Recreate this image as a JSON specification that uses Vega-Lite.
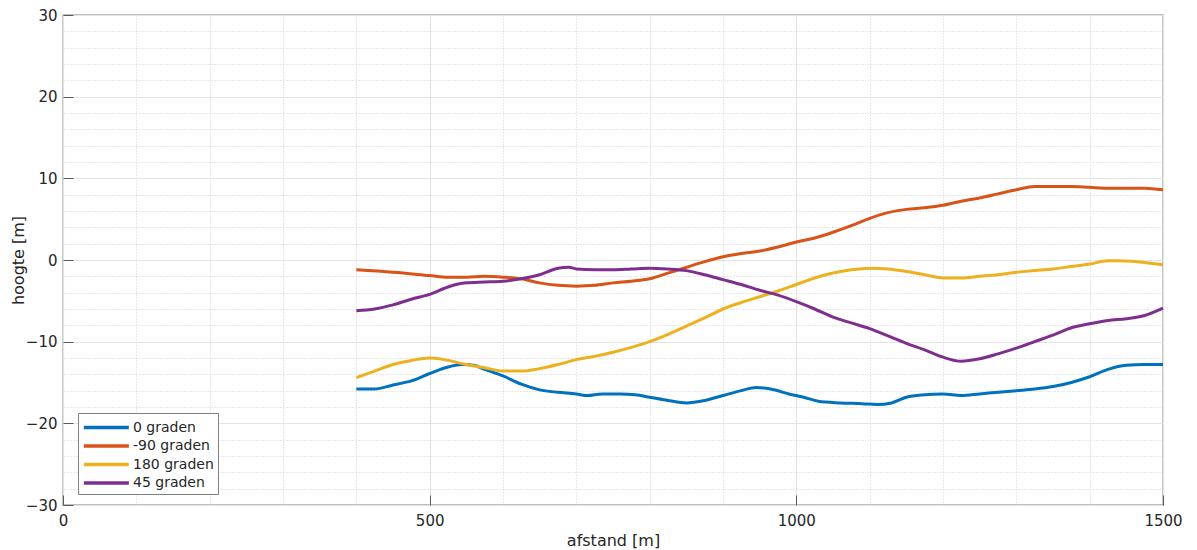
{
  "$schema": "https://vega.github.io/schema/vega-lite/v6.json",
  "width": 1100,
  "height": 490,
  "autosize": {"type": "none"},
  "padding": {"left": 63, "top": 15, "right": 34, "bottom": 45},
  "background": "white",
  "config": {
    "view": {"stroke": "#7f7f7f", "strokeWidth": 1.3},
    "font": "DejaVu Sans",
    "axis": {"labelFont": "DejaVu Sans", "titleFont": "DejaVu Sans", "labelColor": "#262626", "titleColor": "#262626", "titleFontWeight": "normal"}
  },
  "datasets": {
    "d": [
      {"x":400,"y":-15.8,"s":"0 graden"},{"x":425,"y":-15.8,"s":"0 graden"},{"x":450,"y":-15.3,"s":"0 graden"},{"x":475,"y":-14.8,"s":"0 graden"},{"x":500,"y":-13.9,"s":"0 graden"},{"x":525,"y":-13.1,"s":"0 graden"},{"x":545,"y":-12.8,"s":"0 graden"},{"x":560,"y":-12.9,"s":"0 graden"},{"x":575,"y":-13.4,"s":"0 graden"},{"x":600,"y":-14.2,"s":"0 graden"},{"x":625,"y":-15.2,"s":"0 graden"},{"x":650,"y":-15.9,"s":"0 graden"},{"x":675,"y":-16.2,"s":"0 graden"},{"x":700,"y":-16.4,"s":"0 graden"},{"x":715,"y":-16.6,"s":"0 graden"},{"x":735,"y":-16.4,"s":"0 graden"},{"x":760,"y":-16.4,"s":"0 graden"},{"x":780,"y":-16.5,"s":"0 graden"},{"x":800,"y":-16.8,"s":"0 graden"},{"x":825,"y":-17.2,"s":"0 graden"},{"x":850,"y":-17.5,"s":"0 graden"},{"x":875,"y":-17.2,"s":"0 graden"},{"x":900,"y":-16.6,"s":"0 graden"},{"x":925,"y":-16.0,"s":"0 graden"},{"x":945,"y":-15.6,"s":"0 graden"},{"x":965,"y":-15.8,"s":"0 graden"},{"x":990,"y":-16.4,"s":"0 graden"},{"x":1010,"y":-16.8,"s":"0 graden"},{"x":1030,"y":-17.3,"s":"0 graden"},{"x":1060,"y":-17.5,"s":"0 graden"},{"x":1090,"y":-17.6,"s":"0 graden"},{"x":1110,"y":-17.7,"s":"0 graden"},{"x":1130,"y":-17.5,"s":"0 graden"},{"x":1150,"y":-16.8,"s":"0 graden"},{"x":1175,"y":-16.5,"s":"0 graden"},{"x":1200,"y":-16.4,"s":"0 graden"},{"x":1225,"y":-16.6,"s":"0 graden"},{"x":1250,"y":-16.4,"s":"0 graden"},{"x":1275,"y":-16.2,"s":"0 graden"},{"x":1300,"y":-16.0,"s":"0 graden"},{"x":1325,"y":-15.8,"s":"0 graden"},{"x":1350,"y":-15.5,"s":"0 graden"},{"x":1375,"y":-15.0,"s":"0 graden"},{"x":1400,"y":-14.3,"s":"0 graden"},{"x":1425,"y":-13.4,"s":"0 graden"},{"x":1450,"y":-12.9,"s":"0 graden"},{"x":1475,"y":-12.8,"s":"0 graden"},{"x":1500,"y":-12.8,"s":"0 graden"},

      {"x":400,"y":-1.2,"s":"-90 graden"},{"x":450,"y":-1.5,"s":"-90 graden"},{"x":500,"y":-1.9,"s":"-90 graden"},{"x":525,"y":-2.1,"s":"-90 graden"},{"x":550,"y":-2.1,"s":"-90 graden"},{"x":575,"y":-2.0,"s":"-90 graden"},{"x":600,"y":-2.1,"s":"-90 graden"},{"x":625,"y":-2.3,"s":"-90 graden"},{"x":650,"y":-2.8,"s":"-90 graden"},{"x":675,"y":-3.1,"s":"-90 graden"},{"x":700,"y":-3.2,"s":"-90 graden"},{"x":725,"y":-3.1,"s":"-90 graden"},{"x":750,"y":-2.8,"s":"-90 graden"},{"x":775,"y":-2.6,"s":"-90 graden"},{"x":800,"y":-2.3,"s":"-90 graden"},{"x":825,"y":-1.6,"s":"-90 graden"},{"x":850,"y":-0.9,"s":"-90 graden"},{"x":875,"y":-0.2,"s":"-90 graden"},{"x":900,"y":0.4,"s":"-90 graden"},{"x":925,"y":0.8,"s":"-90 graden"},{"x":950,"y":1.1,"s":"-90 graden"},{"x":975,"y":1.6,"s":"-90 graden"},{"x":1000,"y":2.2,"s":"-90 graden"},{"x":1025,"y":2.7,"s":"-90 graden"},{"x":1050,"y":3.4,"s":"-90 graden"},{"x":1075,"y":4.2,"s":"-90 graden"},{"x":1100,"y":5.1,"s":"-90 graden"},{"x":1125,"y":5.8,"s":"-90 graden"},{"x":1150,"y":6.2,"s":"-90 graden"},{"x":1175,"y":6.4,"s":"-90 graden"},{"x":1200,"y":6.7,"s":"-90 graden"},{"x":1225,"y":7.2,"s":"-90 graden"},{"x":1250,"y":7.6,"s":"-90 graden"},{"x":1275,"y":8.1,"s":"-90 graden"},{"x":1300,"y":8.6,"s":"-90 graden"},{"x":1325,"y":9.0,"s":"-90 graden"},{"x":1350,"y":9.0,"s":"-90 graden"},{"x":1375,"y":9.0,"s":"-90 graden"},{"x":1400,"y":8.9,"s":"-90 graden"},{"x":1425,"y":8.8,"s":"-90 graden"},{"x":1450,"y":8.8,"s":"-90 graden"},{"x":1475,"y":8.8,"s":"-90 graden"},{"x":1500,"y":8.6,"s":"-90 graden"},

      {"x":400,"y":-14.4,"s":"180 graden"},{"x":425,"y":-13.6,"s":"180 graden"},{"x":450,"y":-12.8,"s":"180 graden"},{"x":475,"y":-12.3,"s":"180 graden"},{"x":500,"y":-12.0,"s":"180 graden"},{"x":520,"y":-12.2,"s":"180 graden"},{"x":550,"y":-12.8,"s":"180 graden"},{"x":575,"y":-13.2,"s":"180 graden"},{"x":600,"y":-13.6,"s":"180 graden"},{"x":625,"y":-13.6,"s":"180 graden"},{"x":650,"y":-13.3,"s":"180 graden"},{"x":675,"y":-12.8,"s":"180 graden"},{"x":700,"y":-12.2,"s":"180 graden"},{"x":725,"y":-11.8,"s":"180 graden"},{"x":750,"y":-11.3,"s":"180 graden"},{"x":775,"y":-10.7,"s":"180 graden"},{"x":800,"y":-10.0,"s":"180 graden"},{"x":825,"y":-9.1,"s":"180 graden"},{"x":850,"y":-8.1,"s":"180 graden"},{"x":875,"y":-7.1,"s":"180 graden"},{"x":900,"y":-6.0,"s":"180 graden"},{"x":925,"y":-5.2,"s":"180 graden"},{"x":950,"y":-4.5,"s":"180 graden"},{"x":975,"y":-3.8,"s":"180 graden"},{"x":1000,"y":-3.0,"s":"180 graden"},{"x":1025,"y":-2.2,"s":"180 graden"},{"x":1050,"y":-1.6,"s":"180 graden"},{"x":1075,"y":-1.2,"s":"180 graden"},{"x":1100,"y":-1.0,"s":"180 graden"},{"x":1125,"y":-1.1,"s":"180 graden"},{"x":1150,"y":-1.4,"s":"180 graden"},{"x":1175,"y":-1.8,"s":"180 graden"},{"x":1200,"y":-2.2,"s":"180 graden"},{"x":1225,"y":-2.2,"s":"180 graden"},{"x":1250,"y":-2.0,"s":"180 graden"},{"x":1275,"y":-1.8,"s":"180 graden"},{"x":1300,"y":-1.5,"s":"180 graden"},{"x":1325,"y":-1.3,"s":"180 graden"},{"x":1350,"y":-1.1,"s":"180 graden"},{"x":1375,"y":-0.8,"s":"180 graden"},{"x":1400,"y":-0.5,"s":"180 graden"},{"x":1425,"y":-0.1,"s":"180 graden"},{"x":1440,"y":-0.1,"s":"180 graden"},{"x":1475,"y":-0.3,"s":"180 graden"},{"x":1500,"y":-0.6,"s":"180 graden"},

      {"x":400,"y":-6.2,"s":"45 graden"},{"x":425,"y":-6.0,"s":"45 graden"},{"x":450,"y":-5.5,"s":"45 graden"},{"x":475,"y":-4.8,"s":"45 graden"},{"x":500,"y":-4.2,"s":"45 graden"},{"x":525,"y":-3.3,"s":"45 graden"},{"x":550,"y":-2.8,"s":"45 graden"},{"x":575,"y":-2.7,"s":"45 graden"},{"x":600,"y":-2.6,"s":"45 graden"},{"x":625,"y":-2.3,"s":"45 graden"},{"x":650,"y":-1.8,"s":"45 graden"},{"x":675,"y":-1.0,"s":"45 graden"},{"x":690,"y":-0.9,"s":"45 graden"},{"x":700,"y":-1.1,"s":"45 graden"},{"x":725,"y":-1.2,"s":"45 graden"},{"x":750,"y":-1.2,"s":"45 graden"},{"x":775,"y":-1.1,"s":"45 graden"},{"x":800,"y":-1.0,"s":"45 graden"},{"x":825,"y":-1.1,"s":"45 graden"},{"x":850,"y":-1.3,"s":"45 graden"},{"x":875,"y":-1.8,"s":"45 graden"},{"x":900,"y":-2.4,"s":"45 graden"},{"x":925,"y":-3.0,"s":"45 graden"},{"x":950,"y":-3.7,"s":"45 graden"},{"x":975,"y":-4.3,"s":"45 graden"},{"x":1000,"y":-5.1,"s":"45 graden"},{"x":1025,"y":-6.0,"s":"45 graden"},{"x":1050,"y":-7.0,"s":"45 graden"},{"x":1075,"y":-7.7,"s":"45 graden"},{"x":1100,"y":-8.4,"s":"45 graden"},{"x":1125,"y":-9.3,"s":"45 graden"},{"x":1150,"y":-10.2,"s":"45 graden"},{"x":1175,"y":-11.0,"s":"45 graden"},{"x":1200,"y":-11.9,"s":"45 graden"},{"x":1225,"y":-12.4,"s":"45 graden"},{"x":1250,"y":-12.1,"s":"45 graden"},{"x":1275,"y":-11.5,"s":"45 graden"},{"x":1300,"y":-10.8,"s":"45 graden"},{"x":1325,"y":-10.0,"s":"45 graden"},{"x":1350,"y":-9.2,"s":"45 graden"},{"x":1375,"y":-8.3,"s":"45 graden"},{"x":1400,"y":-7.8,"s":"45 graden"},{"x":1425,"y":-7.4,"s":"45 graden"},{"x":1450,"y":-7.2,"s":"45 graden"},{"x":1475,"y":-6.8,"s":"45 graden"},{"x":1500,"y":-5.9,"s":"45 graden"}
    ]
  },
  "data": {"name": "d"},
  "resolve": {"axis": {"x": "independent", "y": "independent"}},
  "layer": [
    {
      "mark": {"type": "line", "strokeOpacity": 0},
      "encoding": {
        "x": {"field": "x", "type": "quantitative", "scale": {"domain": [0, 1500], "nice": false, "zero": false},
          "axis": {"orient": "top", "values": [100,200,300,400,600,700,800,900,1100,1200,1300,1400], "labels": false, "ticks": false, "domain": false, "title": null, "grid": true, "gridColor": "#d0d0d0", "gridDash": [1, 2], "gridWidth": 1}},
        "y": {"field": "y", "type": "quantitative", "scale": {"domain": [-30, 30], "nice": false, "zero": false},
          "axis": {"orient": "right", "values": [-28,-26,-24,-22,-18,-16,-14,-12,-8,-6,-4,-2,2,4,6,8,12,14,16,18,22,24,26,28], "labels": false, "ticks": false, "domain": false, "title": null, "grid": true, "gridColor": "#d0d0d0", "gridDash": [1, 2], "gridWidth": 1}},
        "detail": {"field": "s"}
      }
    },
    {
      "mark": {"type": "line", "strokeWidth": 3, "interpolate": "monotone"},
      "encoding": {
        "x": {"field": "x", "type": "quantitative", "scale": {"domain": [0, 1500], "nice": false, "zero": false},
          "axis": {"orient": "bottom", "values": [0, 500, 1000, 1500], "format": "d", "labelFlush": false, "title": "afstand [m]", "titleFontSize": 16, "titlePadding": 4, "labelFontSize": 15, "labelPadding": 18, "tickSize": -10, "tickColor": "#5a5a5a", "domain": false, "grid": true, "gridColor": "#e3e3e3", "gridWidth": 1.2}},
        "y": {"field": "y", "type": "quantitative", "scale": {"domain": [-30, 30], "nice": false, "zero": false},
          "axis": {"orient": "left", "values": [-30, -20, -10, 0, 10, 20, 30], "format": "d", "labelFlush": false, "title": "hoogte [m]", "titleFontSize": 16, "titlePadding": -1, "labelFontSize": 15, "labelPadding": 16, "tickSize": -10, "tickColor": "#5a5a5a", "domain": false, "grid": true, "gridColor": "#e3e3e3", "gridWidth": 1.2}},
        "color": {"field": "s", "type": "nominal",
          "scale": {"domain": ["0 graden", "-90 graden", "180 graden", "45 graden"], "range": ["#0072BD", "#D95319", "#EDB120", "#7E2F8E"]},
          "legend": {"title": null, "orient": "none", "legendX": 15, "legendY": 398, "symbolType": "M-1,0H4.2", "symbolSize": 300, "symbolStrokeWidth": 3.5, "labelFontSize": 14, "labelColor": "#262626", "labelFont": "DejaVu Sans", "rowPadding": 0.5, "padding": 4, "strokeColor": "#7f7f7f", "fillColor": "white", "labelOffset": 30}}
      }
    }
  ]
}
